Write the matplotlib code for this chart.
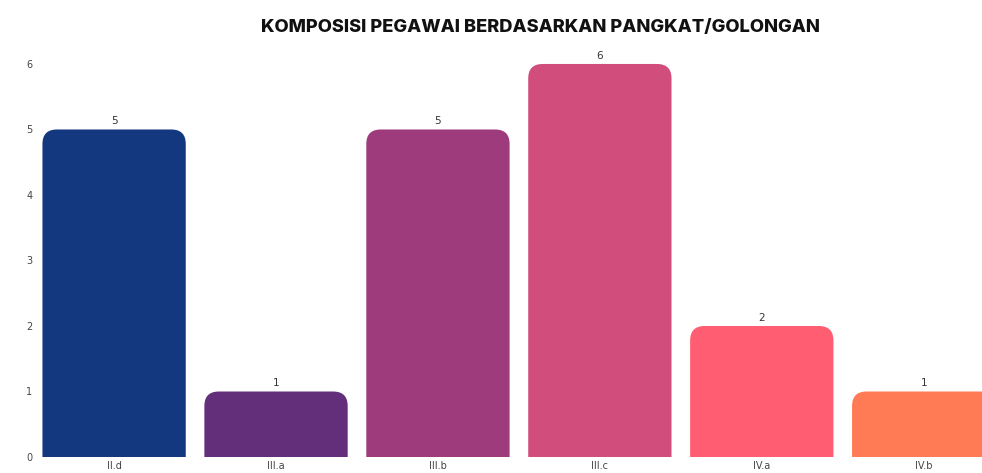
import matplotlib
matplotlib.use("Agg")
import matplotlib.pyplot as plt
from matplotlib.patches import FancyBboxPatch

categories = ["II.d", "III.a", "III.b", "III.c", "IV.a", "IV.b"]
values = [5, 1, 5, 6, 2, 1]
colors = ["#133880", "#632F7B", "#9D3B7D", "#D14D7C", "#FF5E72", "#FF7B56"]
title = "KOMPOSISI PEGAWAI BERDASARKAN PANGKAT/GOLONGAN"

fig = plt.figure(figsize=(9.82, 4.73), dpi=100)
ax = fig.add_axes([38/982, 1 - 457/473, 1 - 38/982, (457 - 62)/473])

width = 0.885
rx = 0.09
ry = 0.22
bars = ax.bar(range(len(categories)), values, width=width, color="none")
for b, v, c in zip(bars, values, colors):
    x0 = b.get_x()
    p = FancyBboxPatch((x0, -1), width, v + 1,
                       boxstyle=f"round,pad=0,rounding_size={rx}",
                       mutation_aspect=ry / rx,
                       facecolor=c, edgecolor="none", clip_on=True)
    ax.add_patch(p)
    ax.text(b.get_x() + width / 2, v + 0.05, str(v), ha="center", va="bottom",
            fontsize=7.5, color="#333333", family="DejaVu Sans")

ax.set_xlim(-0.47, 5.36)
ax.set_ylim(0, 6.03)
ax.set_yticks(range(0, 7))
ax.set_xticks(range(len(categories)))
ax.set_xticklabels(categories)
for s in ax.spines.values():
    s.set_visible(False)
ax.tick_params(length=0, labelsize=7, colors="#444444")
ax.tick_params(axis="y", pad=4)
ax.tick_params(axis="x", pad=3)

fig.text(540/982, 1 - 28/473, title, ha="center", va="center",
         fontsize=13.2, fontweight="heavy", family="Inter", color="#111111")

fig.savefig("out.png", dpi=100)
